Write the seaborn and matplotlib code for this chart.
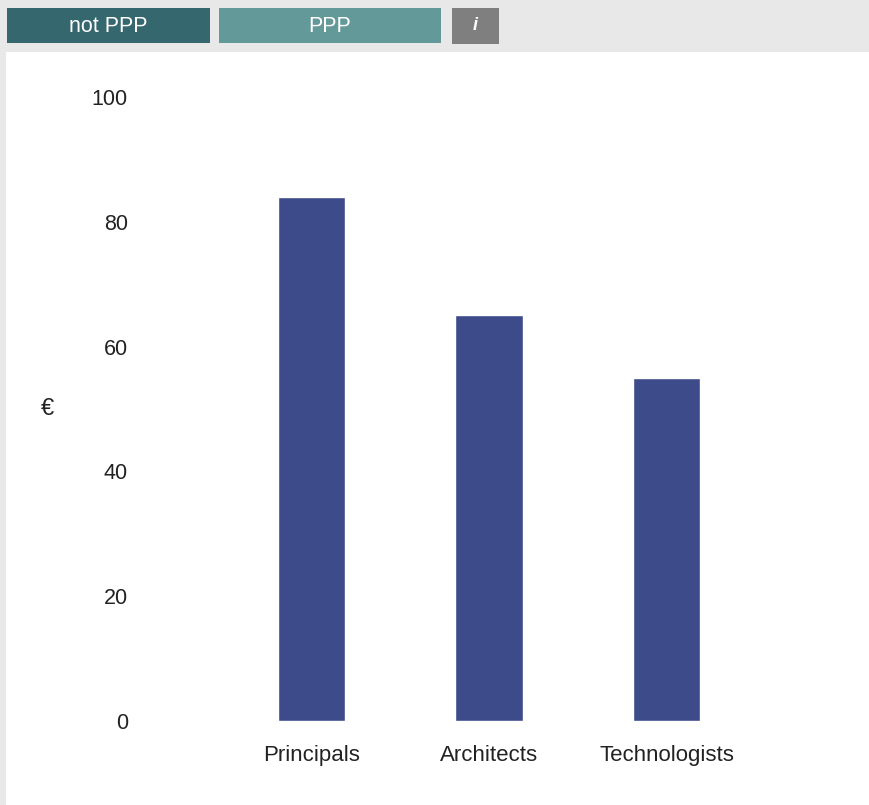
import matplotlib
matplotlib.use("Agg")
import matplotlib.pyplot as plt
from matplotlib.patches import Rectangle
import seaborn as sns
import pandas as pd

categories = ["Principals", "Architects", "Technologists"]
values = [84, 65, 55]
yticks = [0, 20, 40, 60, 80, 100]
y_label = "€"
buttons = ["not PPP", "PPP"]

sns.set_style("white")
plt.rcParams["font.family"] = ["Liberation Sans", "DejaVu Sans"]

W, H = 870, 805
fig = plt.figure(figsize=(W / 100, H / 100), dpi=100)
fig.patch.set_facecolor("#e8e8e8")

def px_rect(x0, y0, x1, y1, color, z=0):
    r = Rectangle((x0 / W, 1 - y1 / H), (x1 - x0) / W, (y1 - y0) / H,
                  transform=fig.transFigure, facecolor=color, edgecolor="none",
                  zorder=z)
    fig.patches.append(r)
    return r

# white panel
px_rect(6, 52, 872, 807, "white", -10)
# buttons
px_rect(7, 8, 210, 43, "#35676f", 1)
px_rect(219, 8, 441, 43, "#64999a", 1)
px_rect(452, 8, 499, 44, "#7f7f7f", 1)
fig.text((7 + 210) / 2 / W, 1 - 26 / H, buttons[0], color="white",
         ha="center", va="center", fontsize=15.5, zorder=2)
fig.text((219 + 441) / 2 / W, 1 - 26 / H, buttons[1], color="white",
         ha="center", va="center", fontsize=15.5, zorder=2)
fig.text((452 + 499) / 2 / W, 1 - 26 / H, "i", color="white",
         ha="center", va="center", fontsize=13, style="italic", weight="bold",
         zorder=2)

left, right = 150, 826.25
ax = fig.add_axes([left / W, (H - 721) / H, (right - left) / W, (721 - 97) / H])
ax.set_facecolor("none")
ax.set_zorder(5)

df = pd.DataFrame({"category": categories, "value": values})
sns.barplot(data=df, x="category", y="value", color="#3e4b8a",
            saturation=1, width=0.38, ax=ax)

ax.set_xlim(-0.91, 2.9)
ax.set_ylim(0, 100)
ax.set_yticks(yticks)
ax.set_yticklabels([str(t) for t in yticks])
for s in ax.spines.values():
    s.set_visible(False)
ax.tick_params(axis="y", length=0, pad=16, labelsize=15.5, labelcolor="#222222")
ax.tick_params(axis="x", length=0, pad=17, labelsize=16, labelcolor="#222222")
ax.set_xlabel("")
ax.set_ylabel(y_label, rotation=0, fontsize=17, color="#222222",
              va="center", ha="center")
ax.yaxis.set_label_coords((47 - left) / (right - left), (721 - 409) / (721 - 97))
ax.grid(False)

fig.savefig("out.png", dpi=100, facecolor=fig.get_facecolor())
